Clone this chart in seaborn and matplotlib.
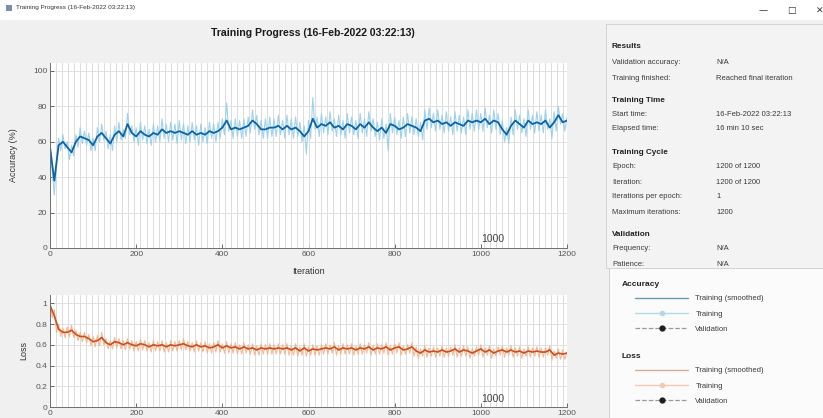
"""Recreate the MATLAB 'Training Progress' window: accuracy + loss curves and side panels."""

import numpy as np
import matplotlib
matplotlib.use("Agg")
import matplotlib.pyplot as plt
import seaborn as sns
from matplotlib.lines import Line2D
from matplotlib.patches import Rectangle
from matplotlib.legend import Legend

W, H = 823, 418

# ── data ─────────────────────────────────────────────────────────────────────
iters_smooth = np.arange(0, 1201, 10)
iters_raw = np.arange(0, 1201, 5)

acc_smooth = [
    57, 38, 58, 60, 57, 54, 60, 63, 62, 61,
    58, 63, 65, 62, 59, 64, 66, 63, 70, 65,
    63, 66, 64, 63, 65, 64, 67, 65, 66, 65,
    66, 65, 64, 66, 64, 65, 64, 66, 65, 66,
    68, 72, 67, 68, 67, 68, 69, 72, 70, 67,
    67, 68, 68, 69, 67, 69, 67, 68, 66, 63,
    66, 73, 68, 70, 69, 71, 68, 69, 67, 70,
    69, 67, 70, 68, 71, 68, 66, 68, 65, 70,
    69, 67, 68, 70, 69, 68, 66, 72, 73, 71,
    72, 70, 71, 69, 71, 70, 69, 72, 71, 72,
    71, 73, 70, 72, 71, 67, 64, 69, 72, 70,
    68, 72, 70, 71, 70, 72, 68, 71, 75, 71,
    72,
]

acc_raw = [
    60, 44, 30, 50, 62, 55, 64, 56, 60, 50, 58, 52, 64, 57, 68, 59, 66, 58, 65, 55,
    62, 55, 68, 60, 70, 61, 66, 56, 64, 55, 69, 60, 71, 61, 67, 62, 76, 64, 69, 60,
    68, 58, 71, 61, 69, 59, 67, 58, 70, 60, 69, 60, 73, 62, 70, 60, 71, 61, 70, 59,
    72, 61, 70, 59, 69, 60, 71, 61, 69, 58, 70, 60, 68, 59, 71, 62, 70, 60, 71, 62,
    73, 64, 82, 66, 72, 62, 73, 63, 72, 62, 73, 63, 74, 65, 78, 67, 75, 64, 72, 62,
    73, 62, 74, 63, 73, 63, 75, 64, 72, 62, 75, 64, 73, 62, 74, 63, 71, 60, 69, 53,
    72, 62, 85, 67, 74, 63, 76, 65, 74, 64, 77, 66, 73, 63, 75, 64, 72, 62, 76, 65,
    74, 64, 72, 62, 76, 65, 73, 63, 77, 66, 73, 63, 71, 61, 73, 62, 70, 55, 76, 65,
    74, 64, 72, 62, 74, 63, 76, 65, 74, 64, 73, 63, 71, 61, 78, 67, 79, 68, 76, 66,
    78, 67, 75, 65, 77, 66, 74, 64, 77, 66, 75, 65, 74, 64, 78, 67, 76, 66, 78, 67,
    76, 66, 79, 68, 75, 65, 78, 67, 76, 64, 72, 60, 68, 59, 74, 64, 78, 67, 75, 65,
    73, 63, 78, 67, 75, 65, 77, 66, 75, 65, 78, 67, 73, 62, 77, 66, 80, 70, 76, 66,
    74,
]

loss_smooth = [
    0.98, 0.88, 0.75, 0.72, 0.72, 0.74, 0.70, 0.68, 0.68, 0.66,
    0.63, 0.64, 0.67, 0.62, 0.60, 0.63, 0.62, 0.60, 0.62, 0.60,
    0.59, 0.61, 0.60, 0.58, 0.60, 0.59, 0.60, 0.58, 0.60, 0.59,
    0.60, 0.61, 0.59, 0.58, 0.60, 0.58, 0.59, 0.57, 0.58, 0.60,
    0.57, 0.59, 0.57, 0.58, 0.56, 0.58, 0.56, 0.57, 0.55, 0.57,
    0.56, 0.57, 0.56, 0.57, 0.56, 0.57, 0.55, 0.57, 0.54, 0.57,
    0.54, 0.56, 0.55, 0.56, 0.57, 0.56, 0.58, 0.55, 0.57, 0.56,
    0.57, 0.55, 0.57, 0.56, 0.58, 0.55, 0.57, 0.56, 0.58, 0.55,
    0.57, 0.58, 0.55, 0.56, 0.58, 0.54, 0.52, 0.55, 0.53, 0.54,
    0.53, 0.55, 0.53, 0.54, 0.56, 0.53, 0.55, 0.54, 0.52, 0.54,
    0.56, 0.53, 0.55, 0.52, 0.54, 0.55, 0.53, 0.55, 0.53, 0.54,
    0.52, 0.54, 0.53, 0.54, 0.53, 0.53, 0.55, 0.50, 0.52, 0.51,
    0.52,
]

loss_raw = [
    1.04, 0.86, 0.94, 0.72, 0.80, 0.68, 0.76, 0.67, 0.77, 0.68,
    0.79, 0.67, 0.74, 0.64, 0.72, 0.63, 0.72, 0.62, 0.70, 0.59,
    0.68, 0.58, 0.69, 0.59, 0.72, 0.60, 0.66, 0.56, 0.64, 0.56,
    0.67, 0.57, 0.66, 0.56, 0.64, 0.55, 0.66, 0.56, 0.64, 0.54,
    0.63, 0.54, 0.65, 0.55, 0.64, 0.54, 0.62, 0.53, 0.64, 0.54,
    0.63, 0.54, 0.64, 0.53, 0.62, 0.53, 0.64, 0.54, 0.63, 0.54,
    0.64, 0.55, 0.66, 0.55, 0.63, 0.54, 0.62, 0.53, 0.64, 0.54,
    0.62, 0.53, 0.63, 0.52, 0.61, 0.52, 0.62, 0.53, 0.64, 0.53,
    0.61, 0.52, 0.63, 0.52, 0.61, 0.52, 0.62, 0.51, 0.60, 0.51,
    0.62, 0.52, 0.60, 0.51, 0.61, 0.50, 0.59, 0.50, 0.61, 0.51,
    0.60, 0.51, 0.61, 0.51, 0.60, 0.51, 0.61, 0.51, 0.60, 0.51,
    0.61, 0.50, 0.59, 0.50, 0.61, 0.49, 0.58, 0.50, 0.61, 0.49,
    0.58, 0.50, 0.60, 0.50, 0.59, 0.50, 0.60, 0.51, 0.61, 0.51,
    0.60, 0.52, 0.62, 0.50, 0.59, 0.51, 0.61, 0.51, 0.60, 0.51,
    0.61, 0.50, 0.59, 0.51, 0.61, 0.51, 0.60, 0.52, 0.62, 0.50,
    0.59, 0.51, 0.61, 0.51, 0.60, 0.52, 0.62, 0.50, 0.59, 0.51,
    0.61, 0.52, 0.62, 0.50, 0.59, 0.51, 0.60, 0.52, 0.62, 0.49,
    0.58, 0.47, 0.56, 0.49, 0.59, 0.48, 0.57, 0.49, 0.58, 0.48,
    0.57, 0.49, 0.59, 0.48, 0.57, 0.49, 0.58, 0.50, 0.60, 0.48,
    0.57, 0.49, 0.59, 0.49, 0.58, 0.47, 0.56, 0.49, 0.58, 0.50,
    0.60, 0.48, 0.57, 0.50, 0.59, 0.47, 0.56, 0.49, 0.58, 0.50,
    0.59, 0.48, 0.57, 0.50, 0.59, 0.48, 0.57, 0.49, 0.58, 0.47,
    0.56, 0.49, 0.58, 0.48, 0.57, 0.49, 0.58, 0.48, 0.57, 0.48,
    0.57, 0.50, 0.59, 0.45, 0.54, 0.47, 0.56, 0.46, 0.55, 0.46,
    0.53,
]

x_ticks = [0, 200, 400, 600, 800, 1000, 1200]
acc_ticks = [0, 20, 40, 60, 80, 100]
loss_ticks = [0, 0.2, 0.4, 0.6, 0.8, 1.0]
loss_tick_labels = ["0", "0.2", "0.4", "0.6", "0.8", "1"]

window_title = "Training Progress (16-Feb-2022 03:22:13)"

info_rows = [
    ("Results", None, True),
    ("Validation accuracy:", "N/A", False),
    ("Training finished:", "Reached final iteration", False),
    ("Training Time", None, True),
    ("Start time:", "16-Feb-2022 03:22:13", False),
    ("Elapsed time:", "16 min 10 sec", False),
    ("Training Cycle", None, True),
    ("Epoch:", "1200 of 1200", False),
    ("Iteration:", "1200 of 1200", False),
    ("Iterations per epoch:", "1", False),
    ("Maximum iterations:", "1200", False),
    ("Validation", None, True),
    ("Frequency:", "N/A", False),
    ("Patience:", "N/A", False),
]
info_y = [47, 63, 78, 100, 115, 129, 152, 167, 182, 197, 212, 234, 249, 264]

# colours
ACC_RAW, ACC_SM = "#8ccbee", "#0b63a3"
LOSS_RAW, LOSS_SM = "#f7ab80", "#c94f1c"

sns.set_theme(style="white")
plt.rcParams["font.family"] = ["Liberation Sans", "DejaVu Sans"]


def fig_rect(x0, y0, x1, y1):
    """pixel box (top-left origin) -> figure fraction [l, b, w, h]"""
    return [x0 / W, 1 - y1 / H, (x1 - x0) / W, (y1 - y0) / H]


fig = plt.figure(figsize=(W / 100, H / 100), dpi=100, facecolor="#f0f0f0")

# window title bar
fig.add_artist(Rectangle((0, 1 - 20 / H), 1, 20 / H, transform=fig.transFigure,
                         facecolor="white", edgecolor="none", zorder=0))
fig.add_artist(Rectangle((6 / W, 1 - 11 / H), 6 / W, 6 / H, transform=fig.transFigure,
                         facecolor="#7a8fa8", edgecolor="none"))
fig.text(16 / W, 1 - 8 / H, window_title, fontsize=4.6, color="#333333", va="center")
for px, s in [(763, "—"), (791, "□"), (820, "✕")]:
    fig.text(px / W, 1 - 11 / H, s, fontsize=6.5, color="#333333", ha="center", va="center",
             family=["DejaVu Sans"])

fig.text(313 / W, 1 - 33 / H, window_title, fontsize=7.6, fontweight="bold",
         ha="center", va="center", color="#1a1a1a")


def style_axes(ax):
    ax.set_facecolor("white")
    ax.set_xlim(0, 1200)
    ax.set_xticks(x_ticks)
    ax.set_xticks(np.arange(0, 1201, 14), minor=True)
    ax.grid(True, which="minor", axis="x", color="#d6d6d6", lw=0.6)
    ax.grid(True, which="major", axis="y", color="#dcdcdc", lw=0.6)
    ax.grid(False, which="major", axis="x")
    ax.set_axisbelow(True)
    for side in ["top", "right"]:
        ax.spines[side].set_visible(False)
    for side in ["left", "bottom"]:
        ax.spines[side].set_color("#6e6e6e")
        ax.spines[side].set_linewidth(0.7)
    ax.tick_params(which="major", direction="in", length=3, width=0.6, colors="#555555",
                   labelsize=6, pad=2, bottom=True, left=True)
    ax.tick_params(which="minor", length=0)


# ── accuracy ──
ax1 = fig.add_axes(fig_rect(50, 63, 567, 248))
style_axes(ax1)
sns.lineplot(x=iters_raw, y=acc_raw, ax=ax1, color=ACC_RAW, linewidth=0.8, alpha=0.85)
sns.lineplot(x=iters_smooth, y=acc_smooth, ax=ax1, color=ACC_SM, linewidth=1.3)
ax1.set_ylim(0, 104.5)
ax1.set_yticks(acc_ticks)
ax1.set_ylabel("Accuracy (%)", fontsize=6.5, color="#333333")
ax1.yaxis.set_label_coords(-0.062, 0.5)
ax1.set_xlabel("Iteration", fontsize=6.5, color="#333333")
ax1.xaxis.set_label_coords(0.5, -0.105)
ax1.text(1000, 2, "1000", fontsize=7.5, color="#444444", ha="left", va="bottom")

# ── loss ──
ax2 = fig.add_axes(fig_rect(50, 295, 567, 407))
style_axes(ax2)
sns.lineplot(x=iters_raw, y=loss_raw, ax=ax2, color=LOSS_RAW, linewidth=0.8, alpha=0.85)
sns.lineplot(x=iters_smooth, y=loss_smooth, ax=ax2, color=LOSS_SM, linewidth=1.2)
ax2.set_ylim(0, 1.08)
ax2.set_yticks(loss_ticks)
ax2.set_yticklabels(loss_tick_labels)
ax2.set_ylabel("Loss", fontsize=6.5, color="#333333")
ax2.yaxis.set_label_coords(-0.043, 0.5)
ax2.text(1000, 0.03, "1000", fontsize=7.5, color="#444444", ha="left", va="bottom")

# ── info panel ──
ix0, iy0, ix1, iy1 = 606, 24, 823, 268
info = fig.add_axes(fig_rect(ix0, iy0, ix1, iy1))
info.set_facecolor("#f3f3f3")
info.set_xticks([])
info.set_yticks([])
info.set_xlim(ix0, ix1)
info.set_ylim(iy1, iy0)
for sp in info.spines.values():
    sp.set_color("#d2d2d2")
    sp.set_linewidth(0.7)
for (label, value, header), py in zip(info_rows, info_y):
    t = info.text(612, py, label, fontsize=5.9 if header else 5.5,
                  fontweight="bold" if header else "normal",
                  color="#222222" if header else "#3a3a3a", va="center")
    t.set_clip_path(info.patch)
    if value is not None:
        v = info.text(716, py, value, fontsize=5.5, color="#3a3a3a", va="center")
        v.set_clip_path(info.patch)

# ── legend panel ──
lx0, ly0, lx1, ly1 = 609, 268, 823, 418
lax = fig.add_axes(fig_rect(lx0, ly0, lx1, ly1))
lax.set_facecolor("#fbfbfb")
lax.set_xticks([])
lax.set_yticks([])
for sp in lax.spines.values():
    sp.set_color("#d2d2d2")
    sp.set_linewidth(0.7)


def ax_xy(px, py):
    return (px - lx0) / (lx1 - lx0), (ly1 - py) / (ly1 - ly0)


def legend_group(title, title_py, rows_top_py, sm_col, raw_col):
    lax.text(*ax_xy(622, title_py), title, transform=lax.transAxes, fontsize=6,
             fontweight="bold", color="#222222", va="center")
    handles = [
        Line2D([], [], color=sm_col, lw=1.0),
        Line2D([], [], color=raw_col, lw=1.0, marker="o", ms=3, mfc=raw_col, mec=raw_col),
        Line2D([], [], color="#9a9a9a", lw=0.9, ls="--", marker="o", ms=3.5,
               mfc="#1e1e1e", mec="#1e1e1e"),
    ]
    leg = Legend(lax, handles, ["Training (smoothed)", "Training", "Validation"],
                 loc="upper left", bbox_to_anchor=ax_xy(635, rows_top_py),
                 frameon=False, fontsize=5.5, handlelength=7.0, handletextpad=0.9,
                 labelspacing=1.05, borderpad=0, borderaxespad=0)
    for t in leg.get_texts():
        t.set_color("#3a3a3a")
    lax.add_artist(leg)


legend_group("Accuracy", 284, 295, "#5e9fb6", "#b3d8e6")
legend_group("Loss", 357, 367, "#d7ab98", "#f1c8b6")

fig.savefig("out.png", dpi=100, facecolor=fig.get_facecolor())
